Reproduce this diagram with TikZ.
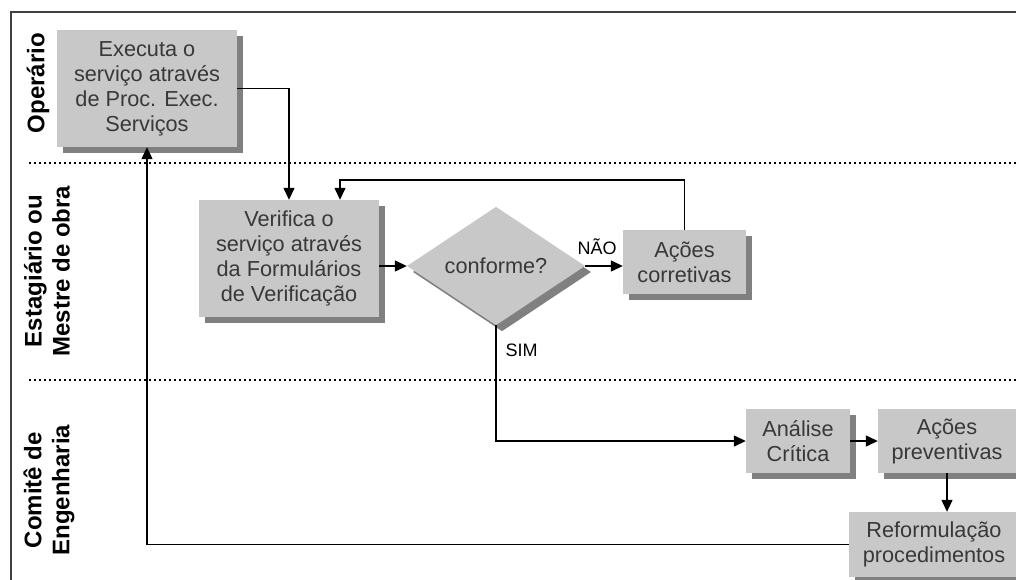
\documentclass[tikz,border=0pt]{standalone}
\usepackage{fontspec}
\setmainfont{Liberation Sans}
\usetikzlibrary{shapes.geometric,shadows,arrows.meta,calc}

\definecolor{boxfill}{HTML}{C8C8C8}
\definecolor{boxshade}{HTML}{808080}
\definecolor{boxtext}{HTML}{383838}
\definecolor{framegray}{HTML}{404040}

\tikzset{
  procbox/.style={rectangle, fill=boxfill, text=boxtext, align=center,
    inner sep=0pt, font=\fontsize{21.7}{25}\selectfont,
    general shadow={fill=boxshade, shadow xshift=6pt, shadow yshift=-6pt}},
  decision/.style={diamond, fill=boxfill, text=boxtext, inner sep=0pt,
    minimum width=178pt, minimum height=114pt,
    font=\fontsize{21.7}{25}\selectfont,
    general shadow={fill=boxshade, shadow xshift=6pt, shadow yshift=-6pt}},
  lanelabel/.style={rotate=90, align=center, font=\fontsize{24}{28}\selectfont\bfseries},
  flow/.style={draw=black, line width=1.3pt, -{Triangle[length=12pt,width=11pt]}},
  tag/.style={font=\fontsize{18}{20}\selectfont, text=black},
  lanesep/.style={line width=2.2pt, dash pattern=on 2.2pt off 2.8pt}
}

\begin{document}
\begin{tikzpicture}[x=1pt, y=-1pt]
  \clip (0,0) rectangle (1016,579);
  \fill[white] (0,0) rectangle (1016,579);

  % outer frame
  \draw[framegray, line width=1.6pt] (11,600) -- (11,12) -- (1040,12);

  % lane separators
  \draw[lanesep] (29,163) -- (1030,163);
  \draw[lanesep] (29,380) -- (1030,380);

  % lane titles
  \node[lanelabel] (lane1) at (38,83) {Operário};
  \node[lanelabel] (lane2) at (47,271) {Estagiário ou\\Mestre de obra};
  \node[lanelabel] (lane3) at (49,490) {Comitê de\\Engenharia};

  % process steps
  \node[procbox, minimum width=180pt, minimum height=117pt] (exe) at (147,88.5)
    {Executa o\\serviço através\\de Proc. Exec.\\Serviços};
  \node[procbox, minimum width=180pt, minimum height=117pt] (ver) at (289,258.5)
    {Verifica o\\serviço através\\da Formulários\\de Verificação};
  \node[decision] (dia) at (496,266) {conforme?};
  \node[procbox, minimum width=123pt, minimum height=64pt] (cor) at (684.5,262)
    {Ações\\corretivas};
  \node[procbox, minimum width=104pt, minimum height=64pt] (ana) at (798,441)
    {Análise\\Crítica};
  \node[procbox, minimum width=138pt, minimum height=64pt] (prev) at (947,441)
    {Ações\\preventivas};
  \node[procbox, minimum width=170pt, minimum height=65pt] (ref) at (934,544.5)
    {Reformulação\\procedimentos};

  % connectors
  \draw[flow] (exe.east) -| (ver.north);
  \coordinate (loop) at (340,180);
  \draw[flow] (cor.north) |- (loop) -- (loop |- ver.north);
  \draw[flow] (ver.east |- dia.west) -- (dia.west);
  \draw[flow] (dia.east) -- (cor.west |- dia.east);
  \node[tag, anchor=south] (naotag) at (597,258) {NÃO};
  \draw[flow] (dia.south) |- (ana.west);
  \node[tag, anchor=west] (simtag) at (502,350) {SIM};
  \draw[flow] (ana.east) -- (prev.west);
  \draw[flow] (prev.south) -- (prev.south |- ref.north);
  \draw[flow] (ref.west) -| (exe.south);
\end{tikzpicture}
\end{document}
